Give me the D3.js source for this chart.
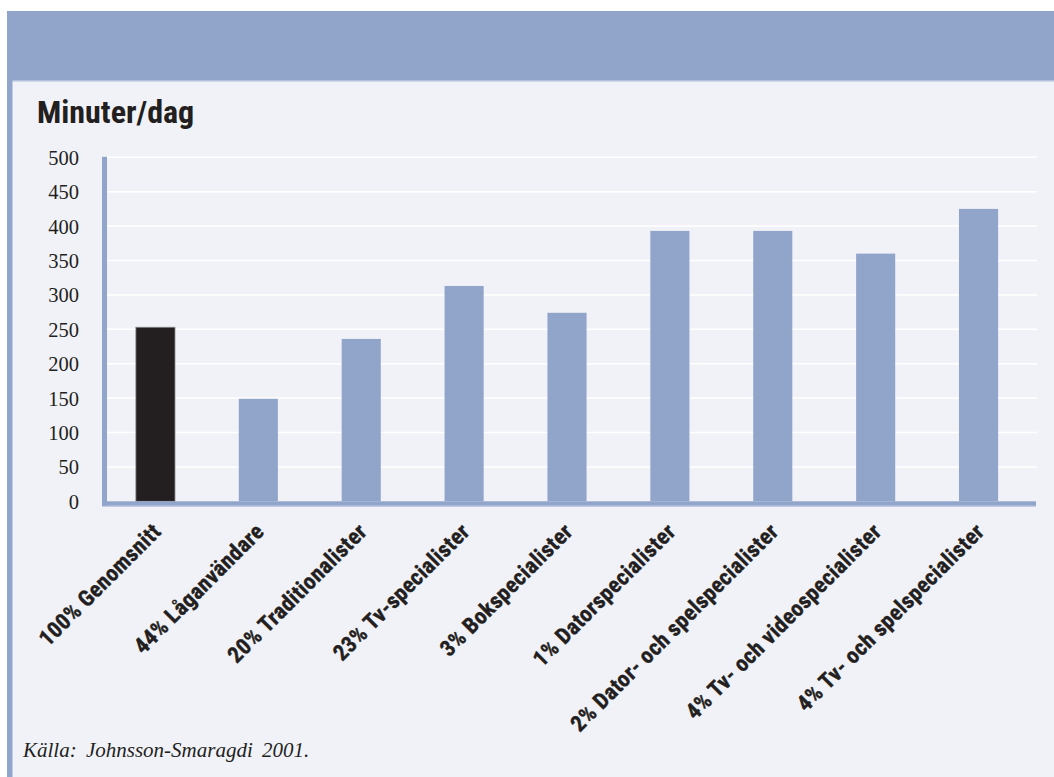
<!DOCTYPE html>
<html>
<head>
<meta charset="utf-8">
<script src="https://cdn.jsdelivr.net/npm/d3@7"></script>
<style>
  html, body { margin: 0; padding: 0; background: #fff; }
  svg { display: block; }
</style>
</head>
<body>
<script>
// groups and minutes per day
const categories = [
  '100% Genomsnitt',
  '44% Låganvändare',
  '20% Traditionalister',
  '23% Tv-specialister',
  '3% Bokspecialister',
  '1% Datorspecialister',
  '2% Dator- och spelspecialister',
  '4% Tv- och videospecialister',
  '4% Tv- och spelspecialister'
]
const minutes = [253, 149, 236, 313, 274, 393, 393, 360, 425]
const yTicks = [0, 50, 100, 150, 200, 250, 300, 350, 400, 450, 500]
const title = 'Minuter/dag'
const source = 'Källa: Johnsson-Smaragdi 2001.'

const W = 1054, H = 777
const BLUE = '#91a4ca',
  PANEL = '#f1f2f8',
  BLACK = '#231f20'
const narrow = '"Liberation Sans Narrow", "Arial Narrow", "Roboto Condensed", sans-serif'
const serif = '"Liberation Serif", "Times New Roman", serif'

const svg = d3.select('body').append('svg')
  .attr('width', W)
  .attr('height', H)

// frame: header band, panel and left rule
svg.append('rect').attr('x', 7).attr('y', 11).attr('width', W - 7).attr('height', 69).attr('fill', BLUE)
svg.append('rect').attr('x', 7).attr('y', 80).attr('width', W - 7).attr('height', H - 80).attr('fill', PANEL)
svg.append('rect').attr('x', 7).attr('y', 80).attr('width', W - 7).attr('height', 1.5).attr('fill', '#b3c0dc')
svg.append('rect').attr('x', 7).attr('y', 80).attr('width', 5.5).attr('height', H - 80).attr('fill', BLUE)

svg.append('text')
  .attr('x', 37).attr('y', 123)
  .attr('font-family', narrow)
  .attr('font-weight', 'bold')
  .attr('font-size', 32)
  .attr('fill', BLACK)
  .text(title)

const margin = { left: 104, right: 1030, top: 157.3, bottom: 501.3 }

const x = d3.scaleBand()
  .domain(categories)
  .range([margin.left, margin.right])
  .paddingInner(0.62)
  .paddingOuter(0.31)

const y = d3.scaleLinear()
  .domain([0, 500])
  .range([margin.bottom, margin.top])

// grid
svg.append('g')
  .selectAll('line')
  .data(yTicks.filter(d => d > 0))
  .join('line')
  .attr('x1', 107).attr('x2', 1037)
  .attr('y1', d => y(d)).attr('y2', d => y(d))
  .attr('stroke', '#fff')
  .attr('stroke-width', 1.5)

// y axis labels
const yAxis = svg.append('g')
  .attr('transform', `translate(79,0)`)
  .call(d3.axisLeft(y).tickValues(yTicks).tickSize(0).tickPadding(0))
yAxis.select('.domain').remove()
yAxis.selectAll('text')
  .attr('font-family', serif)
  .attr('font-size', 20.5)
  .attr('fill', BLACK)
  .attr('dy', '0.34em')

// bars
svg.append('g')
  .selectAll('rect')
  .data(minutes)
  .join('rect')
  .attr('x', (d, i) => x(categories[i]))
  .attr('width', x.bandwidth())
  .attr('y', d => y(d))
  .attr('height', d => y(0) - y(d))
  .attr('fill', (d, i) => i == 0 ? BLACK : BLUE)
  .attr('stroke', (d, i) => i == 0 ? '#8a8a8a' : 'none')
  .attr('stroke-width', 0.8)

// axis lines
svg.append('rect')
  .attr('x', 102).attr('y', y(500) - 0.5)
  .attr('width', 5).attr('height', y(0) - y(500) + 5)
  .attr('fill', BLUE)
svg.append('rect')
  .attr('x', 102).attr('y', y(0))
  .attr('width', 1036 - 102).attr('height', 4.5)
  .attr('fill', BLUE)
svg.append('rect')
  .attr('x', 102).attr('y', y(0) + 4.5)
  .attr('width', 1036 - 102).attr('height', 1)
  .attr('fill', '#b3c0dc')

// rotated category labels
svg.append('g')
  .selectAll('text')
  .data(categories)
  .join('text')
  .attr('transform', d => `translate(${x(d) + x.bandwidth() / 2 + 7},533) rotate(-45)`)
  .attr('text-anchor', 'end')
  .attr('font-family', narrow)
  .attr('font-weight', 'bold')
  .attr('font-size', 22.5)
  .attr('letter-spacing', 0.3)
  .attr('stroke', BLACK)
  .attr('stroke-width', 0.35)
  .attr('fill', BLACK)
  .text(d => d)

svg.append('text')
  .attr('x', 23).attr('y', 757)
  .attr('font-family', serif)
  .attr('font-style', 'italic')
  .attr('font-size', 21)
  .attr('word-spacing', 4)
  .attr('fill', BLACK)
  .text(source)
</script>
</body>
</html>
